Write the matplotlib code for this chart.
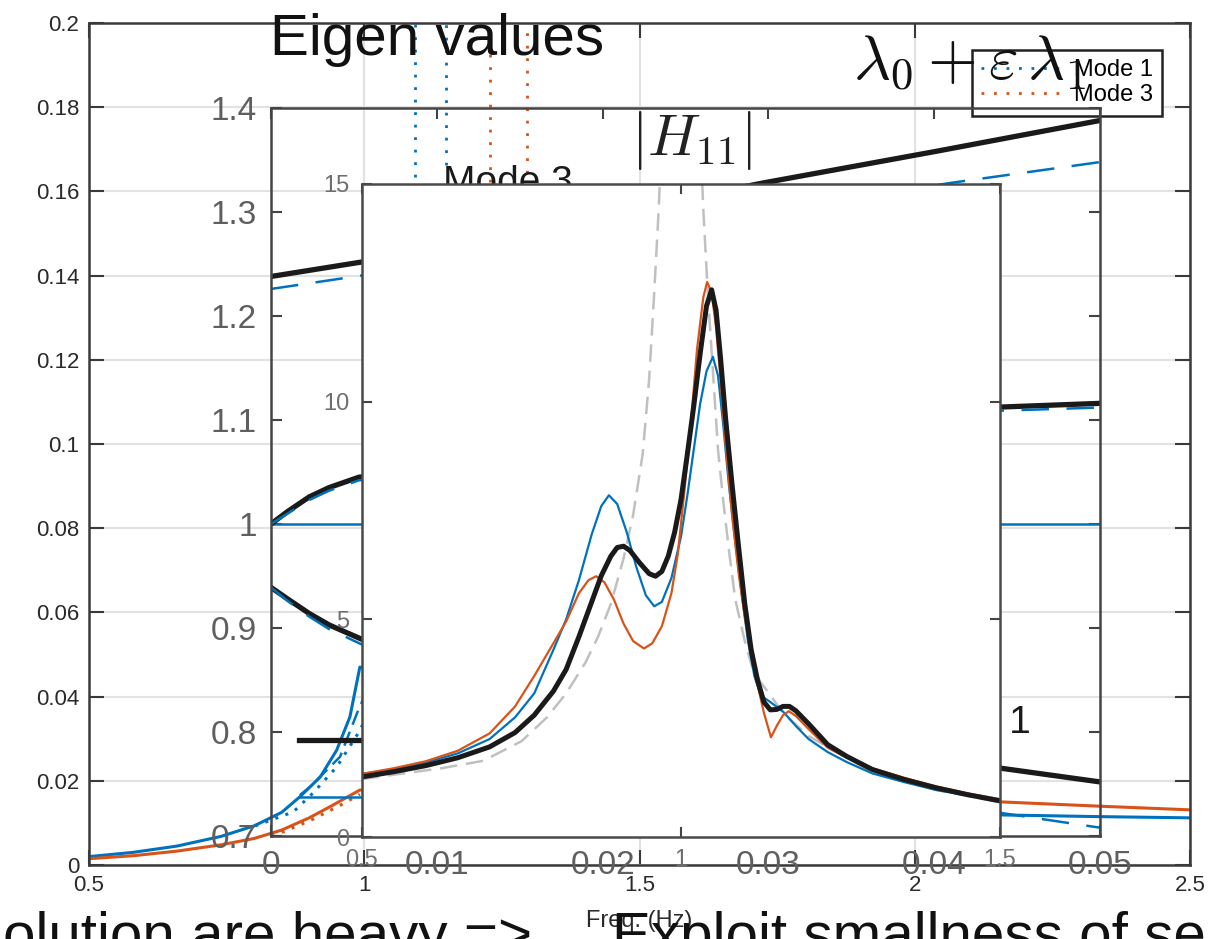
import matplotlib
matplotlib.use("Agg")
import matplotlib.pyplot as plt

plt.rcParams['font.family'] = ['Liberation Sans', 'DejaVu Sans']
plt.rcParams['mathtext.fontset'] = 'cm'

BLUE = '#0072BD'
ORANGE = '#D95319'

# ---------------- back axes (Eigen values, Freq) ----------------
back_xticks = [0.5, 1, 1.5, 2, 2.5]
back_xticklabels = ['0.5', '1', '1.5', '2', '2.5']
back_yticks = [0, 0.02, 0.04, 0.06, 0.08, 0.1, 0.12, 0.14, 0.16, 0.18, 0.2]
back_yticklabels = ['0', '0.02', '0.04', '0.06', '0.08', '0.1', '0.12', '0.14', '0.16', '0.18', '0.2']

back_blue_x = [0.5, 0.58, 0.66, 0.74, 0.80, 0.85, 0.883, 0.920, 0.950, 0.974, 0.992, 2.155, 2.33, 2.5]
back_blue_y = [0.0020, 0.0030, 0.0045, 0.0068, 0.0093, 0.0125, 0.0162, 0.0209, 0.0273, 0.0352, 0.047,
               0.0119, 0.0115, 0.0112]
back_orange_x = [0.5, 0.58, 0.66, 0.74, 0.80, 0.85, 0.90, 0.94, 0.97, 0.992, 2.155, 2.33, 2.5]
back_orange_y = [0.0015, 0.0022, 0.0033, 0.0048, 0.0063, 0.0083, 0.0112, 0.0140, 0.0162, 0.0178,
                 0.0150, 0.0140, 0.0131]
back_blue_dot_x = [0.802, 0.871, 0.907, 0.950, 0.987, 1.0]
back_blue_dot_y = [0.0093, 0.0126, 0.0171, 0.0233, 0.0309, 0.034]
back_blue_dash_x = [0.883, 0.901, 0.956, 0.987, 1.0]
back_blue_dash_y = [0.0166, 0.0185, 0.0257, 0.0361, 0.040]
back_orange_dot_x = [0.832, 0.901, 0.961, 0.992]
back_orange_dot_y = [0.0068, 0.0105, 0.0145, 0.0168]
back_blue_flat_x = [0.883, 1.3]
back_blue_flat_y = [0.0162, 0.0162]
back_black_flat_x = [0.881, 1.3]
back_black_flat_y = [0.0297, 0.0297]

mode1_x = [1.092, 1.149]
mode1_bottom = [0.1634, 0.1663]
mode3_x = [1.228, 1.296]
mode3_bottom = [0.1622, 0.1644]

# ---------------- middle axes (lambda_0 + eps lambda_1) ----------------
mid_xticks = [0, 0.01, 0.02, 0.03, 0.04, 0.05]
mid_xticklabels = ['0', '0.01', '0.02', '0.03', '0.04', '0.05']
mid_yticks = [0.7, 0.8, 0.9, 1.0, 1.1, 1.2, 1.3, 1.4]
mid_yticklabels = ['0.7', '0.8', '0.9', '1', '1.1', '1.2', '1.3', '1.4']

mid_black_top_x = [0, 0.0055, 0.0297, 0.04, 0.05]
mid_black_top_y = [1.238, 1.252, 1.328, 1.358, 1.388]
mid_blue_top_x = [0, 0.0055, 0.041, 0.05]
mid_blue_top_y = [1.226, 1.239, 1.328, 1.348]
mid_black_up_x = [0, 0.001, 0.0023, 0.0035, 0.0053, 0.0441, 0.05]
mid_black_up_y = [1.0, 1.012, 1.026, 1.035, 1.045, 1.1125, 1.116]
mid_blue_up_x = [0, 0.001, 0.0023, 0.0035, 0.0053, 0.0441, 0.05]
mid_blue_up_y = [1.0, 1.010, 1.023, 1.032, 1.042, 1.109, 1.112]
mid_black_low_x = [0, 0.001, 0.0023, 0.0035, 0.0055, 0.0441, 0.05]
mid_black_low_y = [0.939, 0.928, 0.914, 0.903, 0.889, 0.765, 0.752]
mid_blue_low_x = [0, 0.001, 0.0023, 0.0035, 0.0055, 0.0441, 0.05]
mid_blue_low_y = [0.939, 0.926, 0.911, 0.899, 0.884, 0.722, 0.708]
mid_blue_one_x = [0, 0.05]
mid_blue_one_y = [1.0, 1.0]

# ---------------- front axes |H11| ----------------
front_xticks = [0.5, 1, 1.5]
front_xticklabels = ['0.5', '1', '1.5']
front_yticks = [0, 5, 10, 15]
front_yticklabels = ['0', '5', '10', '15']

h_black_x = [0.50, 0.55, 0.60, 0.65, 0.70, 0.74, 0.77, 0.80, 0.82, 0.84, 0.86, 0.875, 0.89, 0.90,
             0.91, 0.92, 0.935, 0.95, 0.96, 0.97, 0.98, 0.99, 1.00, 1.01, 1.02, 1.03, 1.04, 1.048,
             1.055, 1.062, 1.07, 1.08, 1.09, 1.10, 1.11, 1.12, 1.13, 1.14, 1.15, 1.16, 1.17, 1.18,
             1.20, 1.23, 1.26, 1.30, 1.35, 1.40, 1.45, 1.50]
h_black_y = [1.38, 1.50, 1.64, 1.82, 2.07, 2.40, 2.80, 3.35, 3.85, 4.60, 5.40, 6.00, 6.45, 6.65,
             6.68, 6.58, 6.30, 6.05, 5.99, 6.10, 6.45, 7.00, 7.75, 8.80, 9.90, 11.10, 12.20, 12.57,
             12.10, 11.00, 9.60, 8.10, 6.70, 5.35, 4.30, 3.60, 3.10, 2.92, 2.93, 3.00, 3.00, 2.90,
             2.60, 2.12, 1.85, 1.55, 1.32, 1.13, 0.97, 0.83]
h_blue_x = [0.50, 0.55, 0.60, 0.65, 0.70, 0.74, 0.77, 0.80, 0.82, 0.84, 0.86, 0.875, 0.887, 0.90,
            0.915, 0.93, 0.945, 0.958, 0.97, 0.985, 1.00, 1.01, 1.02, 1.03, 1.04, 1.05, 1.058,
            1.066, 1.075, 1.085, 1.095, 1.105, 1.115, 1.125, 1.14, 1.16, 1.18, 1.20, 1.23, 1.26,
            1.30, 1.35, 1.40, 1.45, 1.50]
h_blue_y = [1.45, 1.56, 1.71, 1.92, 2.25, 2.75, 3.30, 4.30, 5.00, 5.90, 6.95, 7.60, 7.85, 7.65,
            7.00, 6.20, 5.55, 5.30, 5.40, 5.95, 6.90, 7.85, 8.90, 9.95, 10.70, 11.03, 10.60,
            9.50, 8.10, 6.80, 5.60, 4.50, 3.70, 3.25, 3.10, 2.88, 2.55, 2.25, 1.95, 1.72,
            1.46, 1.26, 1.08, 0.95, 0.83]
h_orange_x = [0.50, 0.55, 0.60, 0.65, 0.70, 0.74, 0.77, 0.80, 0.82, 0.84, 0.855, 0.867, 0.88,
              0.895, 0.91, 0.925, 0.942, 0.955, 0.97, 0.985, 0.995, 1.005, 1.015, 1.025, 1.035,
              1.041, 1.048, 1.055, 1.062, 1.07, 1.08, 1.09, 1.10, 1.11, 1.12, 1.13, 1.141, 1.15,
              1.16, 1.169, 1.18, 1.20, 1.23, 1.26, 1.30, 1.35, 1.40, 1.45, 1.50]
h_orange_y = [1.45, 1.58, 1.74, 1.98, 2.38, 3.00, 3.70, 4.45, 4.95, 5.60, 5.90, 5.99, 5.85,
              5.45, 4.90, 4.50, 4.33, 4.45, 4.84, 5.60, 6.50, 7.90, 9.40, 11.19, 12.40,
              12.75, 12.50, 11.70, 10.50, 9.00, 7.40, 6.10, 5.05, 4.20, 3.50, 2.85, 2.29, 2.55,
              2.80, 2.89, 2.78, 2.48, 2.05, 1.82, 1.58, 1.36, 1.16, 1.00, 0.87]
h_sdof_x = [0.50, 0.56, 0.625, 0.69, 0.75, 0.79, 0.82, 0.85, 0.87, 0.89, 0.91, 0.925, 0.94, 0.95,
            0.958, 0.965, 0.975, 0.99, 1.0, 1.01, 1.025, 1.035, 1.042, 1.05, 1.058, 1.066, 1.075,
            1.085, 1.10, 1.111, 1.125, 1.137, 1.16, 1.20, 1.25, 1.30, 1.40, 1.50]
h_sdof_y = [1.33, 1.45, 1.58, 1.75, 2.20, 2.75, 3.30, 4.00, 4.60, 5.35, 6.40, 7.40, 8.80, 10.50,
            12.50, 14.40, 18.0, 23.0, 25.0, 23.0, 18.0, 14.4, 12.50, 10.70, 8.90, 7.75, 6.60,
            5.46, 4.50, 3.93, 3.55, 3.32, 2.85, 2.32, 1.90, 1.50, 1.08, 0.80]

W, H = 1209, 939
fig = plt.figure(figsize=(W / 100, H / 100), dpi=100)


def rect(l, t, r, b):
    return [l / W, 1 - b / H, (r - l) / W, (b - t) / H]


def style_axes(ax, color, lw):
    for s in ax.spines.values():
        s.set_color(color)
        s.set_linewidth(lw)


# ---- back axes
axB = fig.add_axes(rect(89, 23, 1190, 865))
axB.set_xlim(0.5, 2.5)
axB.set_ylim(0, 0.2)
axB.set_xticks(back_xticks, back_xticklabels)
axB.set_yticks(back_yticks, back_yticklabels)
axB.grid(True, color='#e2e2e2', lw=1.5)
axB.set_axisbelow(True)
axB.tick_params(direction='in', length=11, width=1.5, top=True, right=True,
                labelsize=16, pad=7, color='#3a3a3a', labelcolor='#2a2a2a')
style_axes(axB, '#3a3a3a', 1.8)
axB.set_xlabel('Freq. (Hz)', fontsize=17, color='#2a2a2a')
axB.xaxis.set_label_coords(0.5, -0.053)

axB.plot(back_blue_x, back_blue_y, color=BLUE, lw=2.2)
axB.plot(back_orange_x, back_orange_y, color=ORANGE, lw=2.2)
axB.plot(back_blue_dot_x, back_blue_dot_y, color=BLUE, lw=2.2, ls=(0, (1, 2.5)))
axB.plot(back_blue_dash_x, back_blue_dash_y, color=BLUE, lw=1.8, ls=(0, (6, 3)))
axB.plot(back_orange_dot_x, back_orange_dot_y, color=ORANGE, lw=2.2, ls=(0, (1, 2.5)))
axB.plot(back_blue_flat_x, back_blue_flat_y, color=BLUE, lw=1.8)
axB.plot(back_black_flat_x, back_black_flat_y, color='#1a1a1a', lw=3.8)

h1 = None
for xv, yb in zip(mode1_x, mode1_bottom):
    h1, = axB.plot([xv, xv], [yb, 0.2], color=BLUE, lw=2.0, ls=(0, (1, 3.5)))
h3 = None
for xv, yb in zip(mode3_x, mode3_bottom):
    h3, = axB.plot([xv, xv], [yb, 0.2], color=ORANGE, lw=2.0, ls=(0, (1, 3.5)))

axB.text(1.143, 0.1596, 'Mode 3', fontsize=28, color='#1a1a1a', va='baseline', ha='left')
axB.text(2.211, 0.03135, 'Mode 1', fontsize=28, color='#1a1a1a', va='baseline', ha='right')

leg = axB.legend([h1, h3], ['Mode 1', 'Mode 3'], loc='upper right',
                 bbox_to_anchor=(1162 / W, 1 - 50 / H), bbox_transform=fig.transFigure,
                 fontsize=17, frameon=True, fancybox=False, framealpha=1,
                 handlelength=3.4, handletextpad=0.5, labelspacing=0.12,
                 borderpad=0.4, borderaxespad=0)
leg.get_frame().set_edgecolor('#222222')
leg.get_frame().set_linewidth(1.8)

# ---- middle axes
axM = fig.add_axes(rect(271, 108, 1100, 836))
axM.patch.set_visible(False)
axM.set_xlim(0, 0.05)
axM.set_ylim(0.7, 1.4)
axM.set_xticks(mid_xticks, mid_xticklabels)
axM.set_yticks(mid_yticks, mid_yticklabels)
axM.tick_params(direction='in', length=8, width=1.5, top=True, right=True,
                labelsize=24, pad=10, color='#444444', labelcolor='#5f5f5f')
style_axes(axM, '#444444', 1.8)

axM.plot(mid_black_top_x, mid_black_top_y, color='#1a1a1a', lw=3.8)
axM.plot(mid_blue_top_x, mid_blue_top_y, color=BLUE, lw=1.8, ls=(0, (11, 7)))
axM.plot(mid_blue_one_x, mid_blue_one_y, color=BLUE, lw=1.8)
axM.plot(mid_black_up_x, mid_black_up_y, color='#1a1a1a', lw=3.8)
axM.plot(mid_blue_up_x, mid_blue_up_y, color=BLUE, lw=1.8, ls=(0, (11, 7)))
axM.plot(mid_black_low_x, mid_black_low_y, color='#1a1a1a', lw=3.8)
axM.plot(mid_blue_low_x, mid_blue_low_y, color=BLUE, lw=1.8, ls=(0, (11, 7)))

# ---- front axes
axF = fig.add_axes(rect(362, 184, 1000, 837))
axF.set_facecolor('white')
axF.set_xlim(0.5, 1.5)
axF.set_ylim(0, 15)
axF.set_xticks(front_xticks, front_xticklabels)
axF.set_yticks(front_yticks, front_yticklabels)
axF.tick_params(direction='in', length=7, width=1.5, top=True, right=True,
                labelsize=17, pad=9, color='#444444', labelcolor='#6f6f6f')
style_axes(axF, '#4a4a4a', 1.8)

axF.plot(h_sdof_x, h_sdof_y, color='#c0c0c0', lw=1.8, ls=(0, (7, 3.5)))
axF.plot(h_blue_x, h_blue_y, color=BLUE, lw=1.6)
axF.plot(h_orange_x, h_orange_y, color=ORANGE, lw=1.6)
axF.plot(h_black_x, h_black_y, color='#1a1a1a', lw=3.6)

# ---- overlay texts
fig.text(270 / W, 1 - 55 / H, 'Eigen values', fontsize=42, color='#111111',
         ha='left', va='baseline')
fig.text(853 / W, 1 - 80 / H, r'$\lambda_0 + \varepsilon\,\lambda_1$', fontsize=46,
         color='#111111', ha='left', va='baseline')
fig.text(691 / W, 1 - 155 / H, r'$|H_{11}|$', fontsize=42, color='#222222',
         ha='center', va='baseline')
fig.text(3 / W, 1 - 953 / H, 'olution are heavy =>', fontsize=42, color='#111111',
         ha='left', va='baseline')
fig.text(612 / W, 1 - 953 / H, 'Exploit smallness of se', fontsize=42, color='#111111',
         ha='left', va='baseline')

fig.savefig('out.png', dpi=100)
